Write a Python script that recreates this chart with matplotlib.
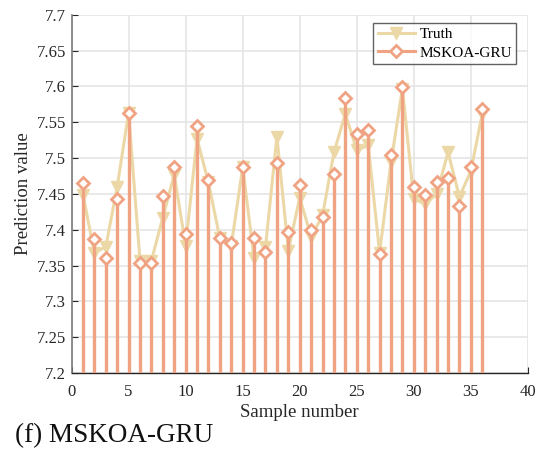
import matplotlib
matplotlib.use("Agg")
import matplotlib.pyplot as plt
from matplotlib.lines import Line2D
from matplotlib.legend_handler import HandlerLine2D

plt.rcParams["font.family"] = ["Liberation Serif", "DejaVu Serif"]

# --- data ---
samples = list(range(1, 37))
truth = [7.449, 7.368, 7.376, 7.460, 7.563, 7.357, 7.357, 7.417, 7.477, 7.378,
         7.527, 7.466, 7.388, 7.378, 7.487, 7.360, 7.376, 7.530, 7.371, 7.445,
         7.390, 7.420, 7.508, 7.562, 7.511, 7.518, 7.368, 7.494, 7.597, 7.443,
         7.436, 7.450, 7.508, 7.446, 7.482, 7.562]
pred = [7.465, 7.387, 7.360, 7.443, 7.563, 7.353, 7.353, 7.447, 7.488, 7.394,
        7.545, 7.470, 7.389, 7.382, 7.488, 7.389, 7.369, 7.493, 7.397, 7.463,
        7.399, 7.418, 7.478, 7.584, 7.534, 7.539, 7.366, 7.504, 7.599, 7.460,
        7.449, 7.466, 7.472, 7.433, 7.487, 7.569]
xticks = [0, 5, 10, 15, 20, 25, 30, 35, 40]
yticks = [7.2, 7.25, 7.3, 7.35, 7.4, 7.45, 7.5, 7.55, 7.6, 7.65, 7.7]
ytick_labels = ["7.2", "7.25", "7.3", "7.35", "7.4", "7.45", "7.5", "7.55", "7.6", "7.65", "7.7"]

C_TRUTH = "#ebd8a6"
C_PRED = "#f0a383"


class StemHandler(HandlerLine2D):
    # stem-style legend entry: marker sits towards the right end of the line
    def get_xdata(self, legend, xdescent, ydescent, width, height, fontsize):
        xdata = [-xdescent, -xdescent + width]
        return xdata, [-xdescent + 0.72 * width]


fig = plt.figure(figsize=(5.42, 4.5), dpi=100)
ax = fig.add_axes([0.132, 0.171, 0.842, 0.796])

ax.plot(samples, truth, color=C_TRUTH, lw=2.2, marker="v", ms=9,
        mfc=C_TRUTH, mec=C_TRUTH, zorder=3)
ax.vlines(samples, 7.2, pred, color=C_PRED, lw=2.4, zorder=4)
ax.plot(samples, pred, ls="none", marker="D", ms=5.8, mfc="white",
        mec=C_PRED, mew=2.0, zorder=5)

ax.set_xlim(0, 40)
ax.set_ylim(7.2, 7.7)
ax.set_xticks(xticks)
ax.set_yticks(yticks)
ax.set_yticklabels(ytick_labels)
ax.grid(True, color="#e3e3e3", lw=1.1, zorder=0)
ax.set_axisbelow(True)
for s in ("top", "right"):
    ax.spines[s].set_visible(False)
ax.spines["left"].set_color("#7a7a7a")
ax.spines["bottom"].set_color("#262626")
ax.spines["left"].set_linewidth(1.2)
ax.spines["bottom"].set_linewidth(1.0)
ax.tick_params(direction="in", length=4, labelsize=12, colors="#262626")
ax.tick_params(axis="x", pad=8)
ax.tick_params(axis="y", pad=4)

ax.set_xlabel("Sample number", fontsize=13.5, color="#262626", labelpad=3)
ax.set_ylabel("Prediction value", fontsize=13.5, color="#262626", labelpad=3)

truth_h = Line2D([], [], color=C_TRUTH, lw=2.2, marker="v", ms=9, mfc=C_TRUTH, mec=C_TRUTH)
pred_h = Line2D([], [], color=C_PRED, lw=2.2, marker="D", ms=5.8, mfc="white", mec=C_PRED, mew=2.0)
leg = ax.legend([truth_h, pred_h], ["Truth", "MSKOA-GRU"], loc="upper right",
                bbox_to_anchor=(0.985, 0.99), fontsize=11, frameon=True,
                fancybox=False, edgecolor="#3a3a3a", handlelength=2.4,
                handletextpad=0.3, borderpad=0.3, labelspacing=0.3,
                borderaxespad=0.3, numpoints=1,
                handler_map={pred_h: StemHandler()})
leg.get_frame().set_linewidth(1.0)

fig.text(0.028, 0.018, "(f) MSKOA-GRU", fontsize=19.5, color="#111111",
         ha="left", va="baseline")

fig.savefig("out.png", dpi=100, facecolor="white")
